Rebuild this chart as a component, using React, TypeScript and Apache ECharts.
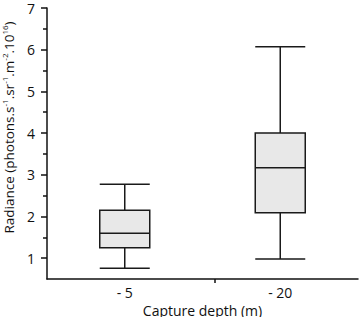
import React, { useEffect, useRef } from "react";
import * as echarts from "echarts";

const categories = ["- 5", "- 20"];
// [min, Q1, median, Q3, max]
const boxValues = [
  [0.76, 1.25, 1.6, 2.15, 2.77],
  [0.98, 2.09, 3.17, 4.0, 6.07],
];
const yTicks = [1, 2, 3, 4, 5, 6, 7];
const yMinorTicks = [1.5, 2.5, 3.5, 4.5, 5.5, 6.5];

export default function App() {
  const ref = useRef<HTMLDivElement>(null);
  useEffect(() => {
    if (!ref.current) return;
    const chart = echarts.init(ref.current, undefined, { renderer: "svg" });
    const font = "'Open Sans', 'Noto Sans', sans-serif";
    const axisColor = "#111";
    chart.setOption({
      animation: false,
      grid: { left: 47, right: 2, top: 8, bottom: 38, containLabel: false, outerBoundsMode: "none" },
      xAxis: [
        {
          type: "category",
          data: categories,
          boundaryGap: true,
          axisLine: { lineStyle: { color: axisColor, width: 1.5 } },
          axisTick: { show: false },
          axisLabel: { color: axisColor, fontSize: 14, fontFamily: font, margin: 6 },
          name: "Capture depth (m)",
          nameLocation: "middle",
          nameGap: 15,
          nameTextStyle: { color: axisColor, fontSize: 14, fontFamily: font },
        },
        {
          type: "value",
          position: "bottom",
          min: 0,
          max: 1,
          axisLine: { show: false },
          splitLine: { show: false },
          axisLabel: { show: false },
          axisTick: {
            show: true,
            customValues: [0.538],
            length: 4,
            lineStyle: { color: axisColor, width: 1.5 },
          },
        },
      ],
      yAxis: [
        {
          type: "value",
          min: 0.5,
          max: 7,
          interval: 0.5,
          axisLine: { show: true, lineStyle: { color: axisColor, width: 1.5 } },
          axisTick: {
            show: true,
            customValues: yTicks,
            length: 6,
            lineStyle: { color: axisColor, width: 1.5 },
          },
          axisLabel: {
            customValues: yTicks,
            color: axisColor,
            fontSize: 14,
            fontFamily: font,
            margin: 12,
            lineHeight: 12,
          },
          splitLine: { show: false },
          name: "{m|Radiance (photons.s}{s|-1}{m|.sr}{s|-1}{m|.m}{s|-2}{m|.10}{s|16}{m|)}",
          nameLocation: "middle",
          nameGap: 29,
          nameRotate: 90,
          nameTextStyle: {
            padding: [0, 0, 0, 32],
            rich: {
              m: { fontSize: 13.5, fontFamily: font, color: axisColor, lineHeight: 18 },
              s: { fontSize: 8, fontFamily: font, color: axisColor, lineHeight: 18, verticalAlign: "top", padding: [0, 0, 6, 0] },
            },
          },
        },
        {
          type: "value",
          min: 0.5,
          max: 7,
          interval: 0.5,
          position: "left",
          axisLine: { show: false },
          axisLabel: { show: false },
          splitLine: { show: false },
          axisTick: {
            show: true,
            customValues: yMinorTicks,
            length: 4,
            lineStyle: { color: axisColor, width: 1.5 },
          },
        },
      ],
      series: [
        {
          type: "boxplot",
          xAxisIndex: 0,
          yAxisIndex: 0,
          data: boxValues,
          boxWidth: [50, 50],
          itemStyle: { color: "#e8e8e8", borderColor: "#1a1a1a", borderWidth: 1.5 },
        },
      ],
    });
    return () => chart.dispose();
  }, []);
  return <div ref={ref} style={{ width: 360, height: 317, position: "absolute", left: 0, top: 0 }} />;
}
